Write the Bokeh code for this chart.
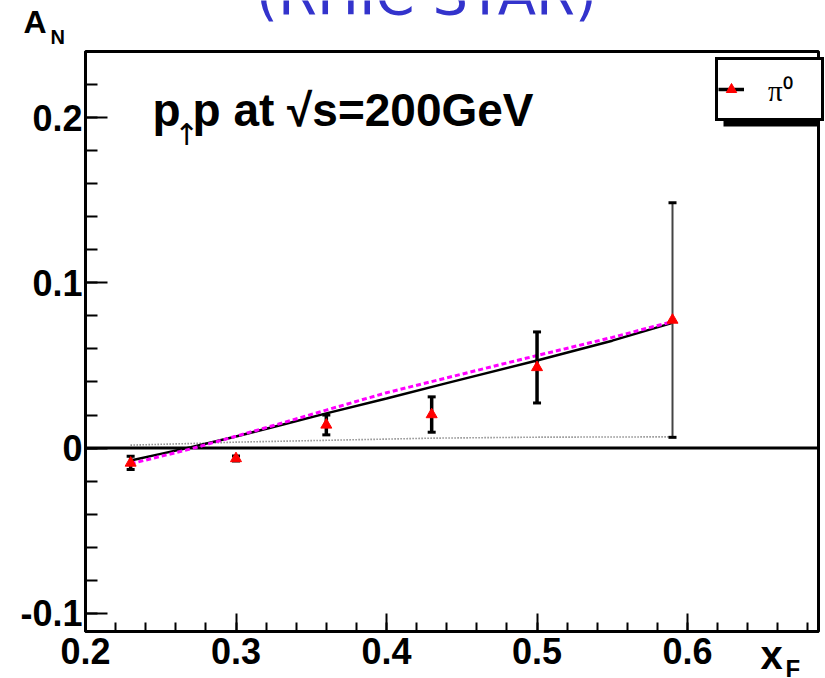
from bokeh.plotting import figure
from bokeh.models import (Range1d, FixedTicker, Label, Legend, LegendItem,
                          ColumnDataSource, LinearAxis, BoxAnnotation)
from bokeh.embed import file_html
from bokeh.resources import INLINE

# ---------------- data ----------------
xf_points = [0.23, 0.30, 0.36, 0.43, 0.50, 0.59]
an_points = [-0.009, -0.0063, 0.0140, 0.0203, 0.0488, 0.0775]
an_errors = [0.004, 0.0015, 0.006, 0.0107, 0.0215, 0.071]

curve_x = [0.23, 0.25, 0.27, 0.30, 0.33, 0.36, 0.40, 0.44, 0.50, 0.55, 0.59]
curve_solid = [-0.0075, -0.0035, 0.0005, 0.0070, 0.0140, 0.0210, 0.0300, 0.0393, 0.0530, 0.0650, 0.0758]
curve_dashed = [-0.0095, -0.0050, -0.0005, 0.0072, 0.0150, 0.0230, 0.0335, 0.0425, 0.0560, 0.0670, 0.0765]

dotted_x = [0.23, 0.28, 0.30, 0.36, 0.43, 0.50, 0.59]
dotted_y = [0.0018, 0.0030, 0.0036, 0.0047, 0.0060, 0.0066, 0.0068]

x_major = [0.2, 0.3, 0.4, 0.5, 0.6]
x_minor = [0.2, 0.22, 0.24, 0.26, 0.28, 0.3, 0.32, 0.34, 0.36, 0.38, 0.4, 0.42, 0.44,
           0.46, 0.48, 0.5, 0.52, 0.54, 0.56, 0.58, 0.6, 0.62, 0.64, 0.66, 0.68]
y_major = [-0.1, 0.0, 0.1, 0.2]
y_minor = [-0.1, -0.08, -0.06, -0.04, -0.02, 0.0, 0.02, 0.04, 0.06, 0.08, 0.1, 0.12,
           0.14, 0.16, 0.18, 0.2, 0.22]
y_labels = {-0.1: "-0.1", 0: "0", 0.1: "0.1", 0.2: "0.2"}
x_labels = {0.2: "0.2", 0.3: "0.3", 0.4: "0.4", 0.5: "0.5", 0.6: "0.6"}

# axis box limits
X0, X1 = 0.2, 0.687
Y0, Y1 = -0.111, 0.240

# ---------------- layout geometry (pixels) ----------------
W, H = 825, 678
FL, FR, FT, FB = 85, 818, 51, 631          # box edges on the canvas
kx = (FR - FL) / (X1 - X0)
ky = (FB - FT) / (Y1 - Y0)
XA, XB = X0 - FL / kx, X1 + (W - FR) / kx
YA, YB = Y0 - (H - FB) / ky, Y1 + FT / ky

def sx(px):   # canvas pixel -> x value (for placing texts)
    return XA + px / kx

def sy(py):
    return YB - py / ky

FONT = "Liberation Sans"

p = figure(width=W, height=H, min_border=0, x_range=Range1d(XA, XB), y_range=Range1d(YA, YB),
           x_axis_location=None, y_axis_location=None,
           output_backend="svg", toolbar_location=None,
           background_fill_color="white", border_fill_color="white")
p.xgrid.grid_line_color = None
p.ygrid.grid_line_color = None
p.outline_line_color = None

def make_axis(major, minor, labels, bounds, loc, standoff, tin, tmin):
    return LinearAxis(ticker=FixedTicker(ticks=major, minor_ticks=minor),
                      major_label_overrides=labels, bounds=bounds, fixed_location=loc,
                      axis_line_width=3, axis_line_color="black",
                      major_tick_line_width=2, minor_tick_line_width=2,
                      major_tick_in=tin, major_tick_out=0, minor_tick_in=tmin, minor_tick_out=0,
                      major_label_text_font=FONT, major_label_text_font_style="bold",
                      major_label_text_font_size="36px", major_label_text_color="black",
                      major_label_standoff=standoff)

p.add_layout(make_axis(x_major, x_minor, x_labels, (X0, X1), Y0, 6, 18, 9), "below")
p.add_layout(make_axis(y_major, y_minor, y_labels, (Y0, Y1), X0, 3, 22, 12), "left")

# box around the plotting area
p.add_layout(BoxAnnotation(left=X0, right=X1, bottom=Y0, top=Y1, fill_alpha=0,
                           line_color="black", line_alpha=1.0, line_width=3))

# zero line
p.line([X0, X1], [0, 0], line_color="black", line_width=3)

# curves
p.line(dotted_x, dotted_y, line_color="#555555", line_width=1.6, line_dash="1 2")
p.line(curve_x, curve_solid, line_color="black", line_width=2.5)
p.line(curve_x, curve_dashed, line_color="#ff00ff", line_width=3, line_dash="5 3")

# error bars
lo = [y - e for y, e in zip(an_points, an_errors)]
hi = [y + e for y, e in zip(an_points, an_errors)]
src_a = ColumnDataSource(dict(x=xf_points[:5], lo=lo[:5], hi=hi[:5]))
src_b = ColumnDataSource(dict(x=xf_points[5:], lo=lo[5:], hi=hi[5:]))
seg_r = p.segment(x0="x", y0="lo", x1="x", y1="hi", source=src_a, line_color="black", line_width=3.5)
p.segment(x0="x", y0="lo", x1="x", y1="hi", source=src_b, line_color="#444444", line_width=2)
for src in (src_a, src_b):
    p.scatter(x="x", y="lo", source=src, marker="dash", size=8, line_color="black", line_width=3)
    p.scatter(x="x", y="hi", source=src, marker="dash", size=8, line_color="black", line_width=3)

tri_r = p.scatter(xf_points, an_points, marker="triangle", size=11, fill_color="red",
                  line_color="red", line_width=1)

# legend with ROOT-like drop shadow
LEG_BOTTOM = 121
p.add_layout(BoxAnnotation(left=sx(723), right=X1, bottom=sy(LEG_BOTTOM + 5), top=sy(LEG_BOTTOM - 1),
                           fill_color="black", fill_alpha=1.0, line_color=None))
legend = Legend(items=[LegendItem(label="π⁰", renderers=[seg_r, tri_r])],
                location=(715, H - LEG_BOTTOM), margin=0, padding=0, spacing=0,
                glyph_width=26, glyph_height=58, label_standoff=24, label_width=53,
                label_height=20,
                border_line_color="black", border_line_width=3, border_line_alpha=1.0,
                label_text_font="Liberation Serif", label_text_font_size="29px",
                label_text_color="black",
                background_fill_color="white", background_fill_alpha=1.0)
p.add_layout(legend)

SHIFT = 0.37   # text anchor sits this fraction of the font size above the baseline

def lab(px, base, text, size, style="bold", font=FONT, color="black", align="left"):
    p.add_layout(Label(x=sx(px), y=sy(base - SHIFT * size), text=text, text_font=font,
                       text_font_size=f"{size}px", text_font_style=style, text_color=color,
                       text_align=align, text_baseline="alphabetic"))

# text annotation p(up)p at sqrt(s)=200GeV
lab(152, 127, "p", 46)
lab(186, 145, "↑", 30, style="normal", font="DejaVu Sans", align="center")
lab(192, 127, "p at √s=200GeV", 46)

# axis titles
lab(23, 33, "A", 32)
lab(50, 44, "N", 20)
lab(760, 669, "x", 40)
lab(785, 677, "F", 24)

# clipped title at the top of the page
lab(426, 15, "(RHIC STAR)", 56, style="normal", font="DejaVu Sans",
    color="#3333cc", align="center")

open("out.html", "w").write(file_html(p, INLINE))
